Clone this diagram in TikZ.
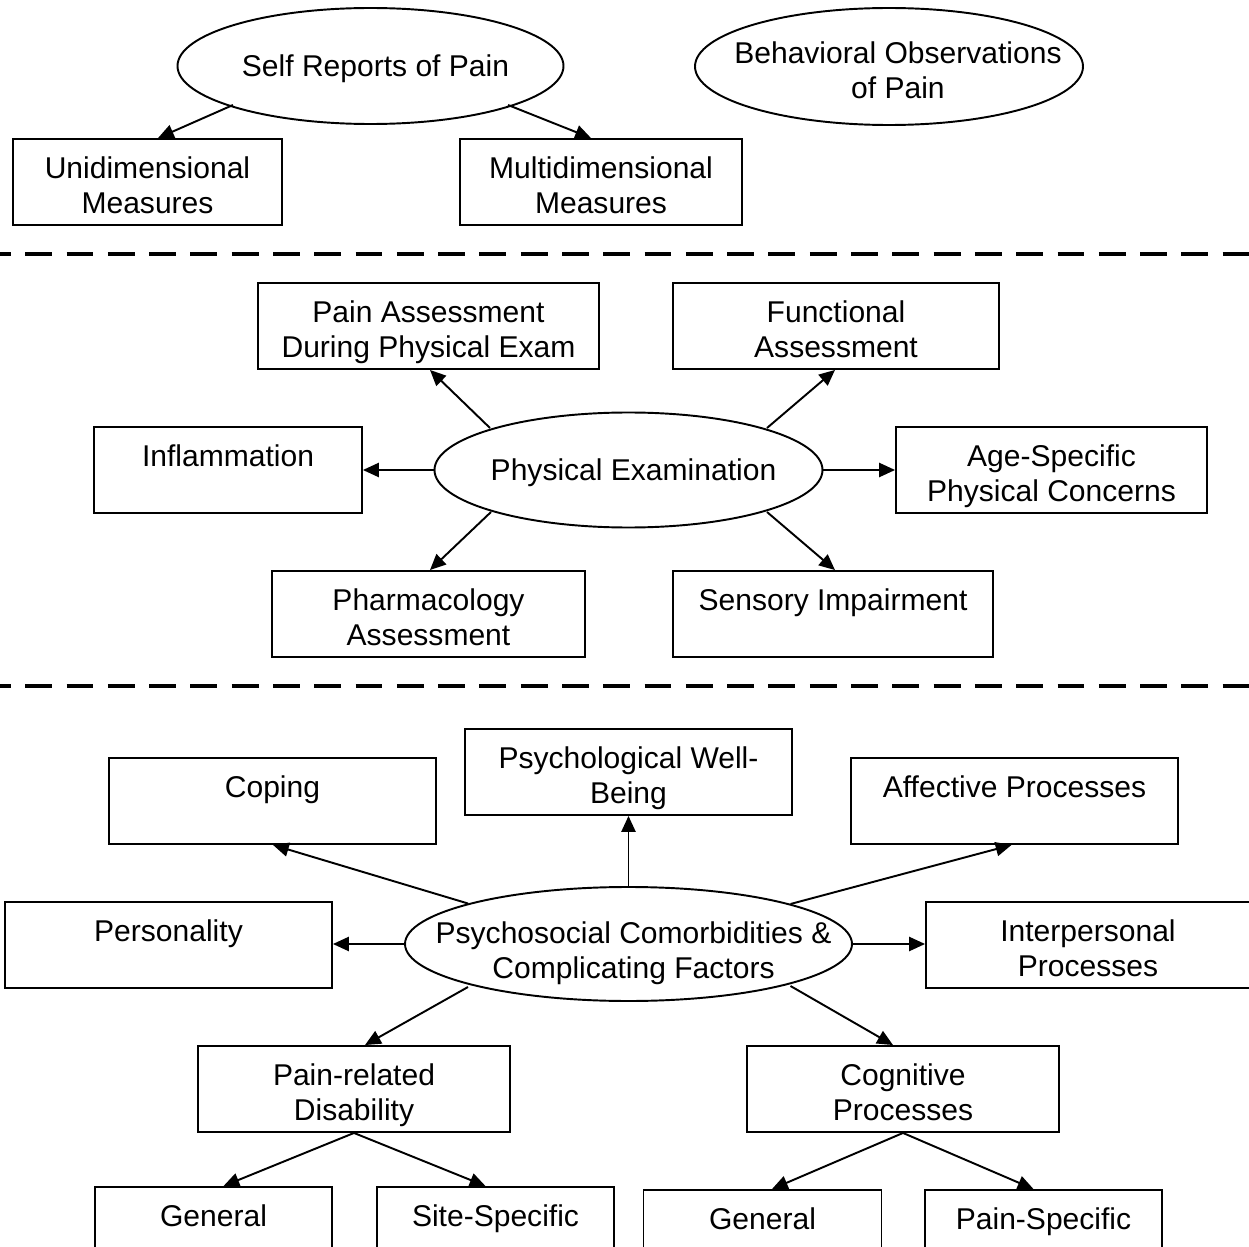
\documentclass[tikz,border=0pt]{standalone}
\usepackage{fontspec}
\setmainfont{Liberation Sans}
\usetikzlibrary{shapes.geometric,arrows.meta,calc}
% text placed by its first baseline, raised by #2 and moved right by half of #1; takes no room
\newcommand{\placetxt}[3][0pt]{\makebox[0pt]{\kern#1\raisebox{#2}[0pt][0pt]{\begin{tabular}[t]{@{}c@{}}#3\end{tabular}}}}
\tikzset{
  wd/.style={minimum width=#1*0.02cm},
  ht/.style={minimum height=#1*0.02cm},
  bx/.style={draw, rectangle, line width=1.1pt, inner sep=0pt, minimum height=1.72cm,
    font=\fontsize{17.1pt}{19.8pt}\selectfont},
  ell/.style={draw, ellipse, line width=1.1pt, inner sep=0pt,
    font=\fontsize{17.1pt}{19.8pt}\selectfont},
  arr/.style={line width=1.1pt, -{Triangle[length=9pt,width=8pt]}},
  sepline/.style={line width=2.4pt, dash pattern=on 15.3pt off 8.2pt}
}
\begin{document}
\begin{tikzpicture}[x=0.02cm, y=-0.02cm]
\useasboundingbox (0,0) rectangle (1249,1247);

% --- top section
\node[ell, wd=386, ht=116] (self) at (370.5,66) {\placetxt[5.7pt]{-6.1pt}{Self Reports of Pain}};
\node[ell, wd=388, ht=117] (behav) at (889,66.5) {\placetxt[10.2pt]{1.8pt}{Behavioral Observations\\of Pain}};
\node[bx, wd=269] (uni) at (147.5,182) {\placetxt{2pt}{Unidimensional\\Measures}};
\node[bx, wd=282] (multi) at (601,182) {\placetxt{2pt}{Multidimensional\\Measures}};

\draw[arr] ($(self.center)+(-137.5,39)$) -- ($(uni.north)+(10.5,0)$);
\draw[arr] ($(self.center)+(137.5,39)$) -- ($(multi.north)+(-10,0)$);

\coordinate (s1a) at (-16,254);
\coordinate (s1b) at (1265,254);
\draw[sepline] (s1a) -- (s1b);

% --- middle section
\node[bx, wd=341] (painassess) at (428.5,326) {\placetxt{2pt}{Pain Assessment\\During Physical Exam}};
\node[bx, wd=326] (functional) at (836,326) {\placetxt{2pt}{Functional\\Assessment}};
\node[bx, wd=268] (inflam) at (228,470) {\placetxt{2pt}{Inflammation}};
\node[ell, wd=388, ht=115] (phys) at (628.5,470) {\placetxt[5.7pt]{-6.1pt}{Physical Examination}};
\node[bx, wd=311] (agespec) at (1051.5,470) {\placetxt{2pt}{Age-Specific\\Physical Concerns}};
\node[bx, wd=313] (pharma) at (428.5,614) {\placetxt{2pt}{Pharmacology\\Assessment}};
\node[bx, wd=320] (sensory) at (833,614) {\placetxt{2pt}{Sensory Impairment}};

\draw[arr] ($(phys.center)+(-138.5,-42)$) -- ($(painassess.south)+(1.5,0)$);
\draw[arr] ($(phys.center)+(138.5,-42)$) -- ($(functional.south)+(-1,0)$);
\draw[arr] (phys.west) -- (inflam.east);
\draw[arr] (phys.east) -- (agespec.west);
\draw[arr] ($(phys.center)+(-137.5,42)$) -- ($(pharma.north)+(1.5,0)$);
\draw[arr] ($(phys.center)+(138.5,42)$) -- ($(sensory.north)+(2,0)$);

\coordinate (s2a) at (-16,686);
\coordinate (s2b) at (1265,686);
\draw[sepline] (s2a) -- (s2b);

% --- bottom section
\node[bx, wd=327] (coping) at (272.5,801) {\placetxt{2pt}{Coping}};
\node[bx, wd=327] (wellb) at (628.5,772) {\placetxt{2pt}{Psychological Well-\\Being}};
\node[bx, wd=327] (affect) at (1014.5,801) {\placetxt{2pt}{Affective Processes}};
\node[bx, wd=327] (person) at (168.5,945) {\placetxt{2pt}{Personality}};
\node[ell, wd=447, ht=114] (psy) at (628.5,944) {\placetxt[5.7pt]{0.3pt}{Psychosocial Comorbidities \&\\Complicating Factors}};
\node[bx, wd=324] (inter) at (1088,945) {\placetxt{2pt}{Interpersonal\\Processes}};
\node[bx, wd=312] (painrel) at (354,1089) {\placetxt{2pt}{Pain-related\\Disability}};
\node[bx, wd=312] (cogn) at (903,1089) {\placetxt{2pt}{Cognitive\\Processes}};
\node[bx, wd=237] (gen1) at (213.5,1230) {\placetxt{2pt}{General}};
\node[bx, wd=237] (site) at (495.5,1230) {\placetxt{2pt}{Site-Specific}};
\node[bx, wd=238] (gen2) at (762.5,1233) {\placetxt{2pt}{General}};
\node[bx, wd=237] (painspec) at (1043.5,1233) {\placetxt{2pt}{Pain-Specific}};

\draw[arr] ($(psy.center)+(-160.5,-40.5)$) -- ($(coping.south)+(0.5,0)$);
\draw[arr] (psy.north) -- (wellb.south);
\draw[arr] ($(psy.center)+(162,-40)$) -- ($(affect.south)+(-3,0)$);
\draw[arr] (psy.west) -- (psy.west -| person.east);
\draw[arr] (psy.east) -- (psy.east -| inter.west);
\draw[arr] ($(psy.center)+(-160.5,43)$) -- ($(painrel.north)+(11,0)$);
\draw[arr] ($(psy.center)+(162,42)$) -- ($(cogn.north)+(-10,0)$);

\draw[arr] (painrel.south) -- ($(gen1.north)+(10,0)$);
\draw[arr] (painrel.south) -- ($(site.north)+(-10,0)$);
\draw[arr] (cogn.south) -- ($(gen2.north)+(9.5,0)$);
\draw[arr] (cogn.south) -- ($(painspec.north)+(-10,0)$);
\end{tikzpicture}
\end{document}
